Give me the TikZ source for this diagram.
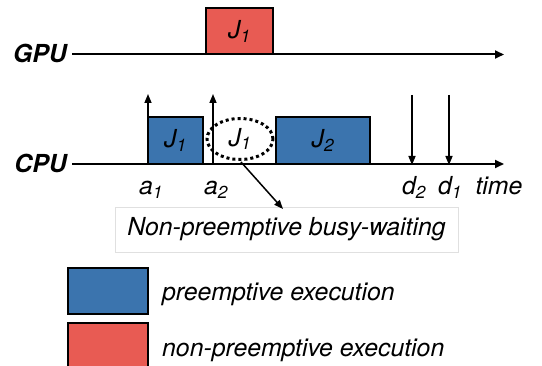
\documentclass[tikz,border=0pt]{standalone}
\usepackage{fontspec}
\setmainfont{TeX Gyre Heros}
\usetikzlibrary{arrows.meta,shapes.geometric}
\definecolor{jobblue}{HTML}{3B74AE}
\definecolor{jobred}{HTML}{E85B53}
\begin{document}
\begin{tikzpicture}[x=1pt,y=-1pt,
  txt/.style={font=\fontsize{24.8}{28}\selectfont\itshape, inner sep=0pt},
  proc/.style={font=\fontsize{24.8}{28}\selectfont\bfseries\itshape, inner sep=0pt, anchor=base east},
  axis/.style={line width=2pt, -{Triangle[length=9pt,width=8pt]}},
  evt/.style={line width=1.5pt, -{Triangle[length=9pt,width=7pt]}},
  jobbox/.style={draw=black, line width=2pt, inner sep=0pt, font=\fontsize{24.8}{28}\selectfont\itshape},
  blue/.style={jobbox, fill=jobblue},
  red/.style={jobbox, fill=jobred}]
\useasboundingbox (0,0) rectangle (542,366);
% axes
\coordinate (gs) at (72,54.5); \coordinate (ge) at (504,54.5);
\coordinate (cs) at (72,164); \coordinate (ce) at (504,164);
\draw[axis] (gs) -- (ge);
\draw[axis] (cs) -- (ce);
\node[proc] (gpu) at (67,63) {GPU};
\node[proc] (cpu) at (67,173) {CPU};
% GPU job
\node[red, minimum width=67pt, minimum height=46pt] (g1) at (239.5,31.5) {J\textsubscript{1}};
% CPU jobs
\node[blue, minimum width=55pt, minimum height=47pt] (c1) at (175.5,140.5) {J\textsubscript{1}};
\node[blue, minimum width=94pt, minimum height=47pt] (c2) at (323,140.5) {J\textsubscript{2}};
\node[ellipse, draw=black, line width=3pt, dash pattern=on 3pt off 3pt,
      minimum width=66pt, minimum height=41pt, inner sep=0pt,
      font=\fontsize{24.8}{28}\selectfont\itshape] (bw) at (240,139) {J\textsubscript{1}};
% release / deadline arrows
\coordinate (a1b) at (148,164); \coordinate (a1t) at (148,94);
\coordinate (a2b) at (213,164); \coordinate (a2t) at (213,94);
\coordinate (d2t) at (412,95); \coordinate (d2b) at (412,165);
\coordinate (d1t) at (449,95); \coordinate (d1b) at (449,165);
\draw[evt] (a1b) -- (a1t);
\draw[evt] (a2b) -- (a2t);
\draw[evt] (d2t) -- (d2b);
\draw[evt] (d1t) -- (d1b);
% labels
\node[txt, anchor=base] (la1) at (151,195) {a\textsubscript{1}};
\node[txt, anchor=base] (la2) at (216,195) {a\textsubscript{2}};
\node[txt, anchor=base] (ld2) at (414,195) {d\textsubscript{2}};
\node[txt, anchor=base] (ld1) at (450,195) {d\textsubscript{1}};
\node[txt, anchor=base] (ltime) at (499,195) {time};
% annotation
\node[draw=black!12, line width=0.8pt, minimum width=343pt, minimum height=45pt,
      inner sep=0pt, font=\fontsize{24.8}{28}\selectfont\itshape] (note) at (286.5,229.5) {Non-preemptive busy-waiting};
\coordinate (tip) at (283,209);
\draw[line width=1.5pt, -{Triangle[length=9pt,width=7pt]}] (bw.south) ++(1,1) -- (tip);
% legend
\node[blue, minimum width=80pt, minimum height=46pt] (lb) at (108,291) {};
\node[red, minimum width=80pt, minimum height=47pt] (lr) at (108,346.5) {};
\node[txt, anchor=base west] (tb) at (162,301) {preemptive execution};
\node[txt, anchor=base west] (tr) at (162,357) {non-preemptive execution};
\end{tikzpicture}
\end{document}
